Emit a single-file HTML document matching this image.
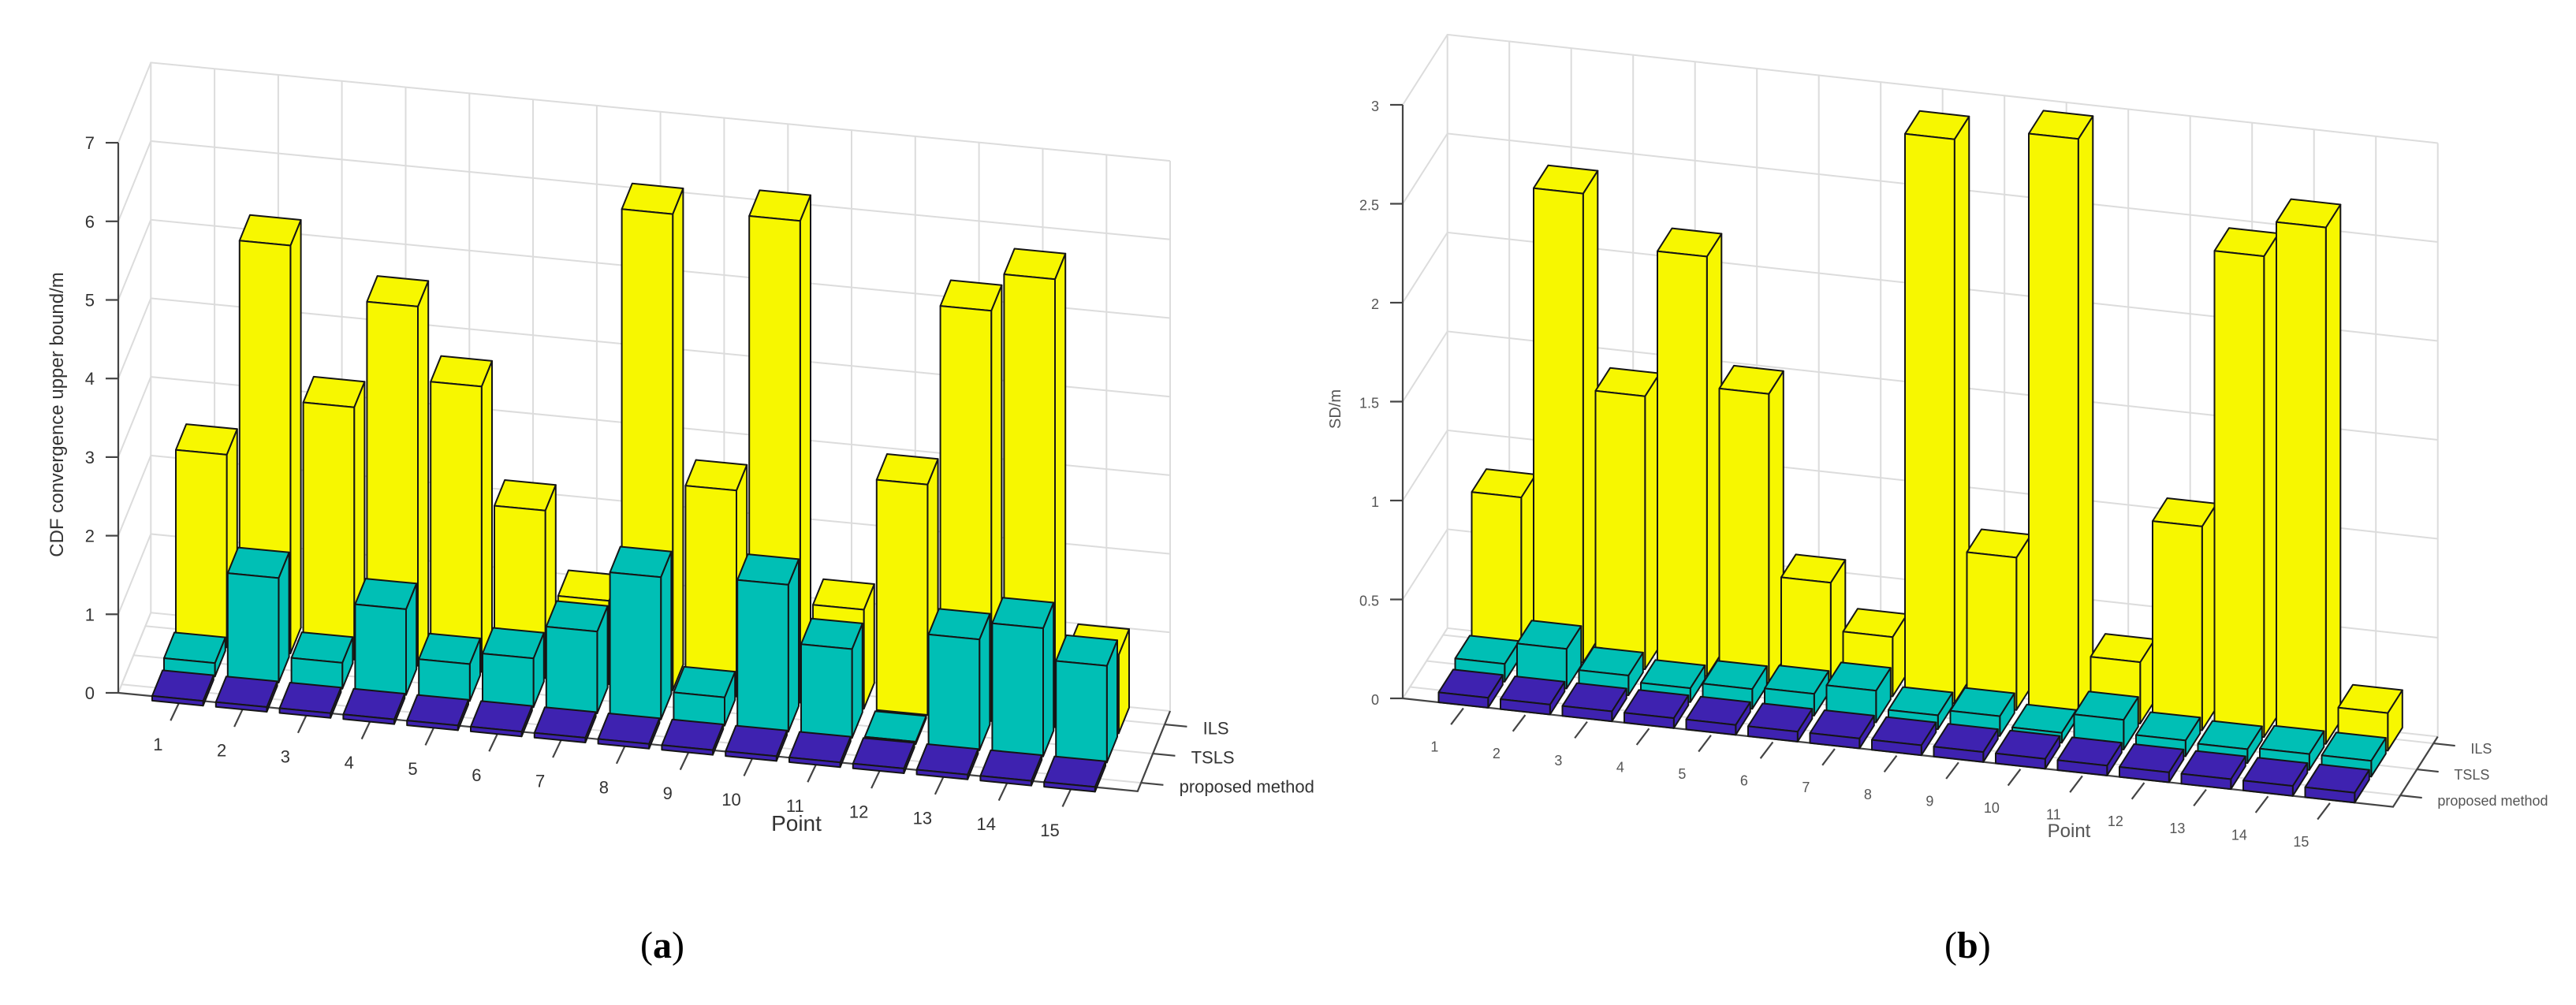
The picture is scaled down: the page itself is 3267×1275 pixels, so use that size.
<!DOCTYPE html>
<html><head><meta charset="utf-8">
<style>
html,body{margin:0;padding:0;background:#fff;}
body{width:3267px;height:1275px;overflow:hidden;position:relative;font-family:"Liberation Sans",sans-serif;}
svg{position:absolute;left:0;top:0;}
.cap{position:absolute;font-family:"Liberation Serif",serif;font-size:48px;color:#000;}
</style></head>
<body>
<svg id="chart" width="3267" height="1275" viewBox="0 0 3267 1275"></svg>
<div class="cap" style="left:812px;top:1172px;">(<b>a</b>)</div>
<div class="cap" style="left:2466px;top:1172px;">(<b>b</b>)</div>
<script>
const categories = ["1","2","3","4","5","6","7","8","9","10","11","12","13","14","15"];
const seriesNames = ["proposed method","TSLS","ILS"];
const leftProposed = [0.06,0.06,0.06,0.06,0.06,0.06,0.06,0.06,0.06,0.06,0.06,0.06,0.06,0.06,0.06];
const leftTSLS = [0.17,1.33,0.33,1.09,0.47,0.62,1.04,1.81,0.36,1.87,1.13,0.03,1.41,1.63,1.23];
const leftILS = [2.45,5.19,3.21,4.57,3.63,2.13,1.06,6.06,2.62,6.13,1.26,2.93,5.22,5.70,1.0];
const leftTicks = [0,1,2,3,4,5,6,7];
const rightProposed = [0.05,0.05,0.05,0.05,0.05,0.05,0.05,0.05,0.05,0.05,0.05,0.05,0.05,0.05,0.05];
const rightTSLS = [0.09,0.2,0.1,0.07,0.1,0.11,0.16,0.07,0.1,0.05,0.15,0.08,0.07,0.08,0.08];
const rightILS = [0.8,2.37,1.38,2.12,1.46,0.54,0.3,2.85,0.77,2.92,0.31,1.03,2.43,2.61,0.19];
const rightTicks = [0,0.5,1,1.5,2,2.5,3];
const rightTickLabels = ["0","0.5","1","1.5","2","2.5","3"];

const NS = "http://www.w3.org/2000/svg";
const svg = document.getElementById("chart");
const colors = ["#3e22b0","#00bfb5","#f7f700"];
function mk(tag, attrs, parent){
  const e = document.createElementNS(NS, tag);
  for (const k in attrs) e.setAttribute(k, attrs[k]);
  (parent||svg).appendChild(e);
  return e;
}
function pts(a){return a.map(p=>p[0].toFixed(1)+","+p[1].toFixed(1)).join(" ");}

function drawChart(cfg, series, ticks, tickLabels){
  const g = mk("g",{});
  
  
  const P = (x, r, z) => [cfg.A[0] + x*cfg.dx[0] + r*cfg.dr[0], cfg.A[1] + x*cfg.dx[1] + r*cfg.dr[1] - z*cfg.zs];
  const D = cfg.D, K = 16, zmax = ticks[ticks.length-1];
  // grid
  const grid = mk("g",{stroke:"#dcdcdc","stroke-width":2,fill:"none"},g);
  
  
  ticks.forEach(t=>{
    const a=P(0,D,t), b=P(K,D,t), c=P(0,0,t);
    mk("polyline",{points:pts([c,a,b])},grid);
  });
  for(let k=0;k<=K;k++){
    const a=P(k,0,0), b=P(k,D,0), c=P(k,D,zmax);
    mk("polyline",{points:pts([a,b,c])},grid);
  }
  for(let r=0;r<3;r++){
    const rr = r+cfg.oy+cfg.bd/2;
    mk("line",{x1:P(0,rr,0)[0],y1:P(0,rr,0)[1],x2:P(K,rr,0)[0],y2:P(K,rr,0)[1]},grid);
  }
  // axes
  const ax = mk("g",{stroke:"#444","stroke-width":2.2,fill:"none"},g);
  
  
  mk("polyline",{points:pts([P(0,0,zmax),P(0,0,0),P(K,0,0),P(K,D,0)])},ax);
  // z ticks
  ticks.forEach((t,j)=>{
    const p=P(0,0,t);
    mk("line",{x1:p[0]-16,y1:p[1],x2:p[0],y2:p[1]},ax);
    const tx = mk("text",{x:p[0]-30,y:p[1]+8,"text-anchor":"end","font-size":cfg.fs,fill:cfg.tc,stroke:"none"},g);
    tx.textContent = tickLabels ? tickLabels[j] : String(t);
    
    
  });
  // x ticks
  categories.forEach((c,i)=>{
    const xc = i+cfg.ox+cfg.bw/2;
    const a=P(xc,0,0), b=P(xc,-0.75,0), l=P(xc,-1.55,0);
    mk("line",{x1:a[0],y1:a[1]+4,x2:b[0],y2:b[1]},ax);
    const tx = mk("text",{x:l[0]-4,y:l[1]+8,"text-anchor":"middle","font-size":cfg.fs,fill:cfg.tc,stroke:"none"},g);
    tx.textContent = c;
    
    
  });
  // row ticks
  seriesNames.forEach((s,r)=>{
    const rr = r+cfg.oy+cfg.bd/2;
    const a=P(K,rr,0), b=P(K+0.35,rr,0), l=P(K+0.55,rr,0);
    mk("line",{x1:a[0],y1:a[1],x2:b[0],y2:b[1]},ax);
    const tx = mk("text",{x:l[0]+4,y:l[1]+8,"font-size":cfg.fs,fill:cfg.tc,stroke:"none"},g);
    tx.textContent = s;
    
    
  });
  // bars: back rows first
  for(let r=2;r>=0;r--){
    const vals = series[r];
    vals.forEach((v,i)=>{
      const x0=i+cfg.ox, x1=x0+cfg.bw, r0=r+cfg.oy, r1=r0+cfg.bd;
      const bg = mk("g",{fill:colors[r],stroke:"#151515","stroke-width":2,"stroke-linejoin":"round"},g);
      
      
      mk("polygon",{points:pts([P(x1,r0,0),P(x1,r1,0),P(x1,r1,v),P(x1,r0,v)])},bg);
      mk("polygon",{points:pts([P(x0,r0,v),P(x1,r0,v),P(x1,r1,v),P(x0,r1,v)])},bg);
      mk("polygon",{points:pts([P(x0,r0,0),P(x1,r0,0),P(x1,r0,v),P(x0,r0,v)])},bg);
    });
  }
  // labels
  const pl = mk("text",{x:cfg.px,y:cfg.py,"text-anchor":"middle","font-size":cfg.fs+6,fill:cfg.tc},g);
  pl.textContent = "Point";
  
  
  const yl = mk("text",{x:0,y:0,"text-anchor":"middle","font-size":cfg.fs+2,fill:cfg.tc,transform:"translate("+cfg.yx+","+cfg.yy+") rotate(-90)"},g);
  yl.textContent = cfg.ylabel;
  
  
}

drawChart({name:"chart-a", A:[150,879], dx:[80.8,7.8], dr:[15,-37], zs:99.7, D:2.75, ox:0.56, oy:-0.15, bw:0.8, bd:0.88,
  fs:22, tc:"#333", px:1010, py:1054, yx:80, yy:526, ylabel:"CDF convergence upper bound/m"},
  [leftProposed,leftTSLS,leftILS], leftTicks, null);
drawChart({name:"chart-b", A:[1779,886], dx:[78.5,8.6], dr:[21,-33], zs:251, D:2.7, ox:0.58, oy:0.0, bw:0.8, bd:0.88,
  fs:18, tc:"#555", px:2624, py:1062, yx:1700, yy:519, ylabel:"SD/m"},
  [rightProposed,rightTSLS,rightILS], rightTicks, rightTickLabels);
</script>
</body></html>
